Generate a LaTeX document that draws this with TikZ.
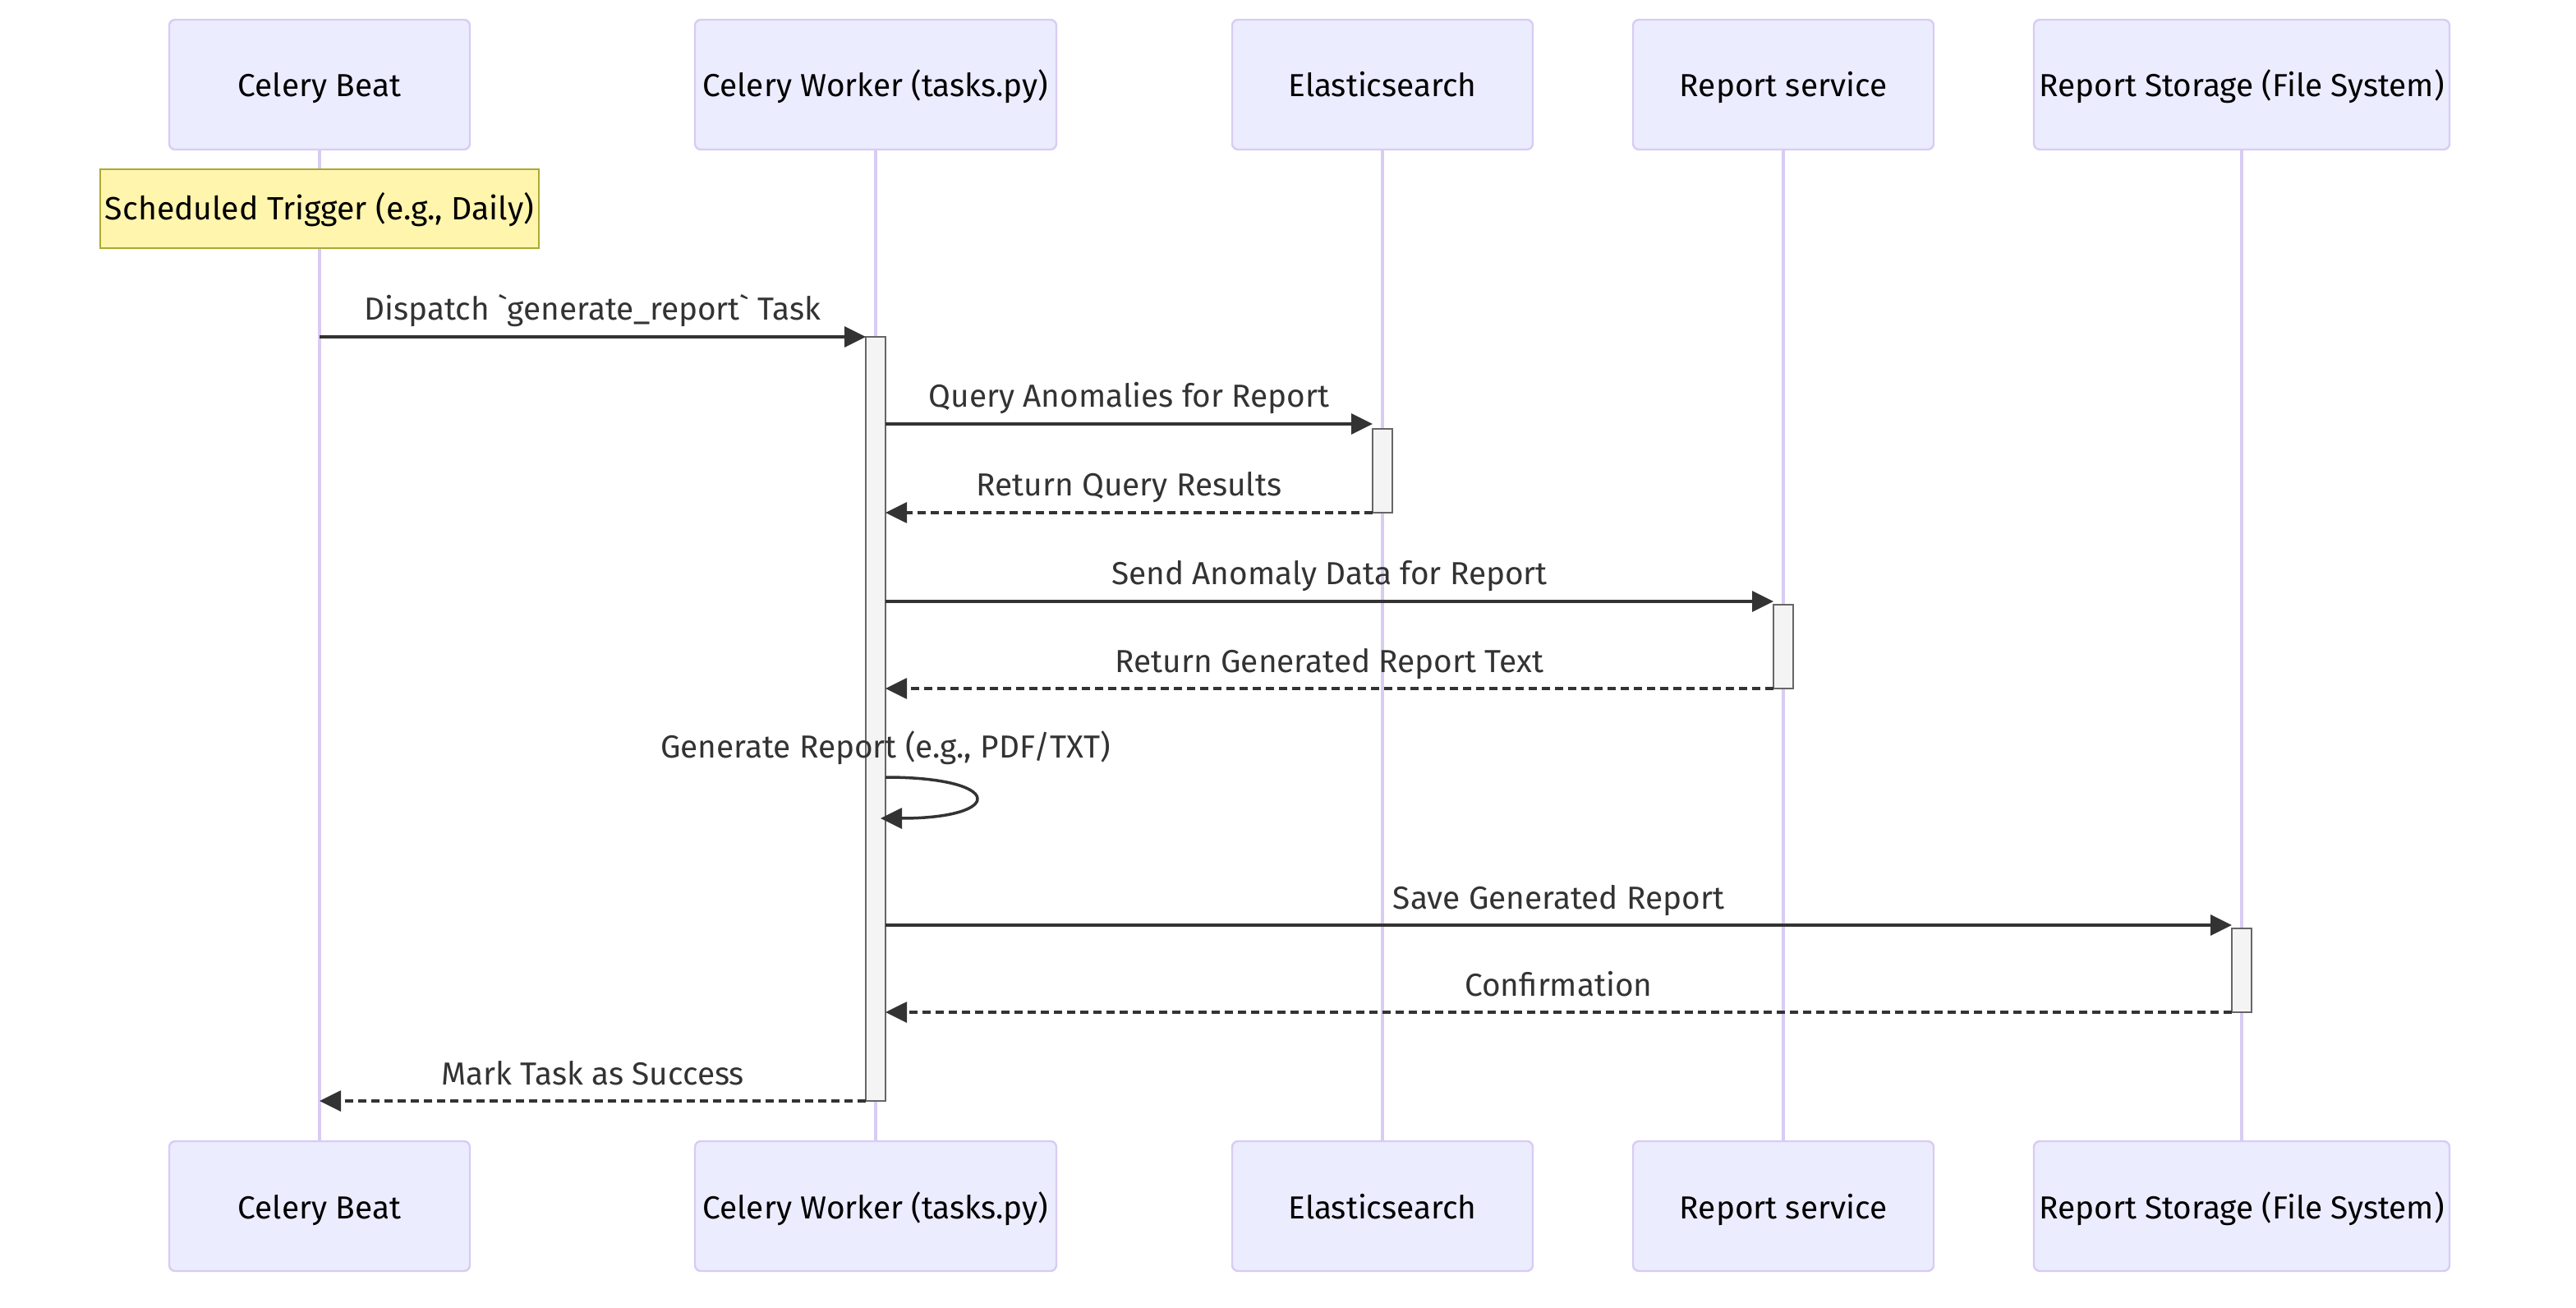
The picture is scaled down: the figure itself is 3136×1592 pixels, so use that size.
\documentclass[tikz,border=0pt]{standalone}
\usepackage{fontspec}
\setmainfont{Fira Sans}
\usetikzlibrary{arrows.meta}
\definecolor{actfillc}{HTML}{ECECFF}
\definecolor{actlinec}{HTML}{D8CCF3}
\definecolor{notefillc}{HTML}{FFF5AD}
\definecolor{notelinec}{HTML}{AAAA33}
\definecolor{barfillc}{HTML}{F4F4F4}
\definecolor{barlinec}{HTML}{666666}
\definecolor{msgc}{HTML}{333333}
\tikzset{
  actorbox/.style={draw=actlinec, fill=actfillc, line width=0.6pt, rounded corners=1.8pt,
    minimum height=39.5pt, inner sep=0pt, outer sep=0pt, text=black,
    text height=9.5pt, text depth=2pt,
    font=\fontsize{9.7pt}{11pt}\selectfont},
  lifeline/.style={draw=actlinec, line width=1pt},
  notebox/.style={draw=notelinec, fill=notefillc, line width=0.6pt, minimum width=133.5pt,
    minimum height=24pt, inner sep=0pt, outer sep=0pt, text=black,
    text height=9.5pt, text depth=2.5pt,
    font=\fontsize{9.8pt}{11pt}\selectfont},
  actbar/.style={draw=barlinec, fill=barfillc, line width=0.6pt, minimum width=6pt,
    inner sep=0pt, outer sep=0pt},
  msg/.style={draw=msgc, line width=0.875pt, -{Triangle[length=6.5pt,width=6.2pt]}},
  ret/.style={msg, dash pattern=on 2.5pt off 1.5pt},
  lbl/.style={anchor=base, yshift=5pt, inner sep=0pt, text=msgc,
    font=\fontsize{9.7pt}{11pt}\selectfont},
}
\begin{document}
\begin{tikzpicture}[x=0.25pt, y=-0.25pt]
\useasboundingbox (0,0) rectangle (3136,1592);
\fill[white] (0,0) rectangle (3136,1592);
% actors top
\node[actorbox, minimum width=91.5pt] (beatT) at (389,103) {Celery Beat};
\node[actorbox, minimum width=110pt] (workT) at (1066,103) {Celery Worker (tasks.py)};
\node[actorbox, minimum width=91.5pt] (elasT) at (1683,103) {Elasticsearch};
\node[actorbox, minimum width=91.5pt] (repT) at (2171,103) {Report service};
\node[actorbox, minimum width=126.5pt] (storT) at (2729,103) {Report Storage (File System)};
% actors bottom
\node[actorbox, minimum width=91.5pt] (beatB) at (389,1468) {Celery Beat};
\node[actorbox, minimum width=110pt] (workB) at (1066,1468) {Celery Worker (tasks.py)};
\node[actorbox, minimum width=91.5pt] (elasB) at (1683,1468) {Elasticsearch};
\node[actorbox, minimum width=91.5pt] (repB) at (2171,1468) {Report service};
\node[actorbox, minimum width=126.5pt] (storB) at (2729,1468) {Report Storage (File System)};
% lifelines
\draw[lifeline] (beatT.south) -- (beatB.north);
\draw[lifeline] (workT.south) -- (workB.north);
\draw[lifeline] (elasT.south) -- (elasB.north);
\draw[lifeline] (repT.south) -- (repB.north);
\draw[lifeline] (storT.south) -- (storB.north);
% note
\node[notebox] (note) at (389,254) {Scheduled Trigger (e.g., Daily)};
% activation bars
\node[actbar, minimum height=232.5pt] (actW) at (1066,875) {};
\node[actbar, minimum height=25.5pt] (actE) at (1683,573) {};
\node[actbar, minimum height=25.5pt] (actR) at (2171,787) {};
\node[actbar, minimum height=25.5pt] (actS) at (2729,1181) {};
% message levels
\coordinate (y2) at (0,516);
\coordinate (y4) at (0,732);
\coordinate (y6a) at (0,946);
\coordinate (y6b) at (0,996);
\coordinate (y7) at (0,1126);
% messages
\draw[msg] (beatT.south |- actW.north) -- node[lbl]{Dispatch \textasciigrave generate\_report\textasciigrave{} Task} (actW.north west);
\draw[msg] (actW.east |- y2) -- node[lbl]{Query Anomalies for Report} (actE.west |- y2);
\draw[ret] (actE.south west) -- node[lbl]{Return Query Results} (actW.east |- actE.south);
\draw[msg] (actW.east |- y4) -- node[lbl]{Send Anomaly Data for Report} (actR.west |- y4);
\draw[ret] (actR.south west) -- node[lbl]{Return Generated Report Text} (actW.east |- actR.south);
\node[lbl, yshift=0pt] (selflbl) at (1078,942) {Generate Report (e.g., PDF/TXT)};
\draw[msg] (actW.east |- y6a) .. controls ([xshift=36.5pt]actW.east |- y6a) and ([xshift=36.5pt]actW.east |- y6b) .. ([xshift=-1.5pt]actW.east |- y6b);
\draw[msg] (actW.east |- y7) -- node[lbl]{Save Generated Report} (actS.west |- y7);
\draw[ret] (actS.south west) -- node[lbl]{Confirmation} (actW.east |- actS.south);
\draw[ret] (actW.south west) -- node[lbl]{Mark Task as Success} (beatT.south |- actW.south);
\end{tikzpicture}
\end{document}
